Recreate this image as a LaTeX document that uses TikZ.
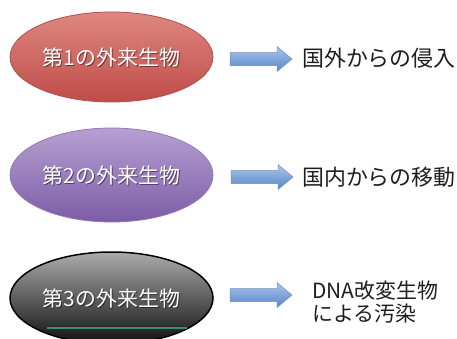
\documentclass[tikz,border=0pt]{standalone}
\usepackage{fontspec}
\setmainfont{Noto Sans CJK JP}
\usetikzlibrary{shapes.geometric}
\definecolor{redtop}{HTML}{DE8781}
\definecolor{redbot}{HTML}{BF4C48}
\definecolor{redline}{HTML}{B0504C}
\definecolor{purtop}{HTML}{B6A0D2}
\definecolor{purbot}{HTML}{7D5CA6}
\definecolor{purline}{HTML}{9479B8}
\definecolor{gratop}{HTML}{ABABAB}
\definecolor{gramid}{HTML}{5A5A5A}
\definecolor{grabot}{HTML}{101010}
\definecolor{arrtop}{HTML}{AFC8EA}
\definecolor{arrmid}{HTML}{7FA5DA}
\definecolor{arrbot}{HTML}{5C86C2}
\definecolor{arrline}{HTML}{6C90C8}
\definecolor{tealline}{HTML}{3C8C7C}
\definecolor{txt}{HTML}{1E1E1E}
\tikzset{
  blob/.style={ellipse, inner sep=0pt, minimum width=203bp},
  blobtext/.style={font=\fontsize{21}{24}\selectfont, text=white, inner sep=0pt},
  blobshadow/.style={font=\fontsize{21}{24}\selectfont, text=black, opacity=0.45, inner sep=0pt},
  bluearrow/.style={top color=arrtop, bottom color=arrbot, middle color=arrmid, draw=arrline, line width=0.5bp},
  result/.style={font=\fontsize{22}{23.5}\selectfont, text=txt, inner sep=0pt, anchor=west, align=left}
}
\newcommand{\blockarrow}[2]{%
  \path[bluearrow] (#1,#2) ++(-31,-6.5) -- ++(47,0) -- ++(0,-6) -- ++(15,12.5) -- ++(-15,12.5) -- ++(0,-6) -- ++(-47,0) -- cycle;}
\begin{document}
\begin{tikzpicture}[x=1bp,y=-1bp]
\useasboundingbox (0,0) rectangle (457,338);
\clip (0,0) rectangle (457,338);
\fill[white] (0,0) rectangle (457,338);
% ellipses
\node[blob, minimum height=90bp, top color=redtop, bottom color=redbot, draw=redline, line width=0.8bp] (e1) at (111.5,57) {};
\node[blob, minimum height=94bp, top color=purtop, bottom color=purbot, draw=purline, line width=0.8bp] (e2) at (111.5,175) {};
\node[blob, minimum height=92bp, top color=gratop, middle color=gramid, bottom color=grabot, draw=black, line width=1.5bp] (e3) at (111.5,298) {};
\draw[tealline, line width=1.6bp] (47,328) coordinate (tl1) -- (187,328) coordinate (tl2);
% ellipse texts
\node[blobshadow] (s1) at ([shift={(1,1)}]e1.center) {第1の外来生物};
\node[blobtext] (l1) at (e1.center) {第1の外来生物};
\node[blobshadow] (s2) at ([shift={(1,1)}]e2.center) {第2の外来生物};
\node[blobtext] (l2) at (e2.center) {第2の外来生物};
\node[blobshadow] (s3) at ([shift={(1,1)}]e3.center) {第3の外来生物};
\node[blobtext] (l3) at (e3.center) {第3の外来生物};
% arrows
\blockarrow{261}{59}
\blockarrow{262}{177}
\blockarrow{261}{295}
% results
\node[result] (t1) at (302,58) {国外からの侵入};
\node[result] (t2) at (302,177) {国内からの移動};
\node[result, font=\fontsize{21}{23}\selectfont] (t3) at (312,302) {DNA改変生物\\による汚染};
\end{tikzpicture}
\end{document}
